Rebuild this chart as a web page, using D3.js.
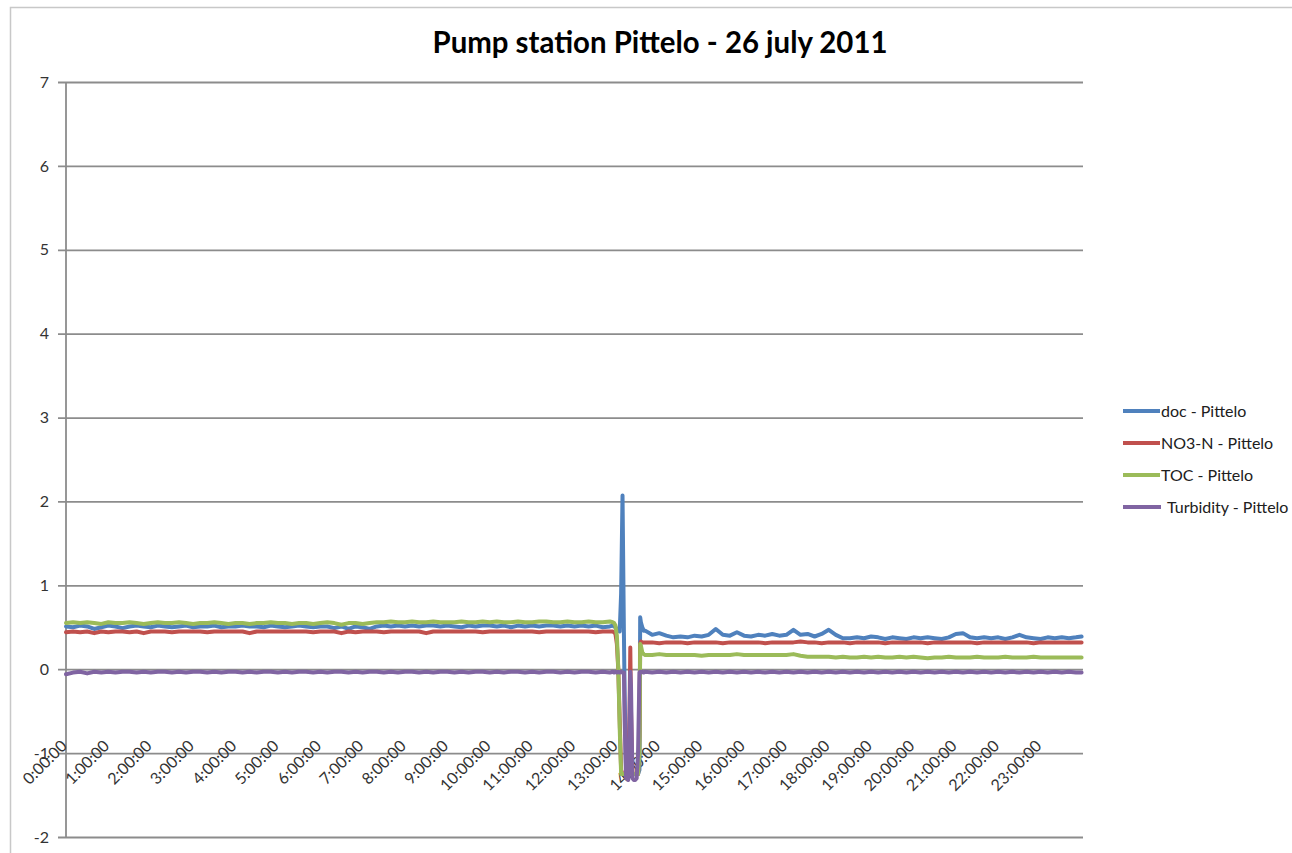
<!DOCTYPE html>
<html>
<head>
<meta charset="utf-8">
<script src="https://cdn.jsdelivr.net/npm/d3@7"></script>
<style>
  html, body { margin: 0; padding: 0; background: #fff; }
  svg { display: block; }
  text { font-family: Lato, "Open Sans", sans-serif; }
</style>
</head>
<body>
<svg id="chart" width="1292" height="853"></svg>
<script>
// Sample times in minutes after midnight (10-minute readings, denser during the 13:00 event)
const minutes = [
  0,10,20,30,40,50,60,70,80,90,100,110,120,130,140,150,160,170,180,190,200,210,220,230,240,250,260,270,280,290,
  300,310,320,330,340,350,360,370,380,390,400,410,420,430,440,450,460,470,480,490,500,510,520,530,540,550,560,570,580,590,
  600,610,620,630,640,650,660,670,680,690,700,710,720,730,740,750,760,770,
  774,776,778,780,782,784,786,788,790,791,793,796,798,799,800,802,804,806,808,810,812,813,814,816,818,
  820,830,840,850,860,870,880,890,900,910,920,930,940,950,960,970,980,990,1000,1010,1020,1030,1040,1050,1060,1070,1080,1090,
  1100,1110,1120,1130,1140,1150,1160,1170,1180,1190,1200,1210,1220,1230,1240,1250,1260,1270,1280,1290,1300,1310,1320,1330,
  1340,1350,1360,1370,1380,1390,1400,1410,1420,1430,1438
];

const doc = [
  0.51,0.50,0.52,0.51,0.48,0.50,0.52,0.51,0.49,0.51,0.52,0.51,0.50,0.52,0.51,0.50,0.51,0.52,0.50,0.51,0.51,0.52,0.50,0.51,0.51,0.52,0.51,0.51,0.50,0.52,
  0.51,0.50,0.51,0.52,0.51,0.50,0.51,0.51,0.49,0.51,0.48,0.51,0.50,0.48,0.51,0.52,0.51,0.52,0.51,0.52,0.51,0.52,0.52,0.51,0.52,0.51,0.50,0.52,0.51,0.52,
  0.52,0.51,0.52,0.50,0.52,0.51,0.52,0.51,0.52,0.52,0.51,0.52,0.51,0.52,0.51,0.52,0.50,0.51,
  0.52,0.51,0.50,0.48,0.46,0.45,0.90,2.07,0.40,-0.30,-1.20,-1.25,-1.25,-1.25,-1.25,-1.25,-1.25,-1.25,-1.25,-1.25,-1.20,0.62,0.56,0.50,0.46,
  0.46,0.41,0.43,0.40,0.38,0.39,0.38,0.40,0.39,0.41,0.48,0.41,0.40,0.44,0.40,0.39,0.41,0.40,0.42,0.40,0.41,0.47,0.41,0.42,0.39,0.42,0.47,0.41,
  0.37,0.37,0.38,0.37,0.39,0.38,0.36,0.38,0.37,0.36,0.38,0.37,0.38,0.37,0.36,0.38,0.42,0.43,0.38,0.37,0.38,0.37,0.38,0.36,
  0.38,0.41,0.38,0.37,0.36,0.38,0.37,0.38,0.37,0.38,0.39
];

const no3n = [
  0.44,0.45,0.44,0.45,0.43,0.45,0.44,0.45,0.45,0.44,0.45,0.43,0.45,0.45,0.45,0.44,0.45,0.45,0.45,0.45,0.44,0.45,0.45,0.45,0.45,0.45,0.43,0.45,0.45,0.45,
  0.45,0.45,0.45,0.45,0.45,0.44,0.45,0.45,0.45,0.43,0.45,0.44,0.45,0.45,0.45,0.44,0.45,0.45,0.45,0.45,0.45,0.43,0.45,0.45,0.45,0.45,0.45,0.45,0.45,0.44,
  0.45,0.45,0.45,0.45,0.45,0.45,0.45,0.44,0.45,0.45,0.45,0.45,0.45,0.45,0.45,0.44,0.45,0.45,
  0.45,0.44,0.42,0.30,0.00,-0.60,-1.20,-1.25,-1.25,-1.25,-1.25,-1.25,-0.50,0.26,-0.50,-1.25,-1.25,-1.25,-1.25,-1.25,-0.80,0.30,0.33,0.32,0.32,
  0.32,0.32,0.31,0.32,0.32,0.32,0.31,0.32,0.32,0.32,0.32,0.31,0.32,0.32,0.32,0.32,0.32,0.31,0.32,0.32,0.32,0.32,0.33,0.32,0.32,0.31,0.32,0.32,
  0.32,0.31,0.32,0.32,0.32,0.32,0.31,0.32,0.32,0.32,0.32,0.32,0.31,0.32,0.32,0.32,0.32,0.32,0.32,0.31,0.32,0.32,0.32,0.32,
  0.32,0.32,0.32,0.31,0.32,0.32,0.32,0.32,0.32,0.32,0.32
];

const toc = [
  0.55,0.56,0.55,0.56,0.55,0.54,0.56,0.55,0.55,0.56,0.55,0.54,0.55,0.56,0.55,0.55,0.56,0.55,0.54,0.55,0.55,0.56,0.55,0.54,0.55,0.55,0.54,0.55,0.55,0.56,
  0.55,0.55,0.54,0.55,0.55,0.54,0.55,0.56,0.55,0.53,0.55,0.55,0.54,0.55,0.56,0.56,0.57,0.56,0.56,0.57,0.56,0.56,0.57,0.56,0.56,0.56,0.57,0.56,0.56,0.57,
  0.56,0.57,0.56,0.56,0.57,0.56,0.56,0.57,0.57,0.56,0.56,0.57,0.56,0.56,0.57,0.56,0.56,0.57,
  0.56,0.55,0.52,0.40,0.00,-0.70,-1.25,-1.25,-1.25,-1.25,-1.25,-1.25,-1.25,-1.25,-1.25,-1.25,-1.25,-1.25,-1.25,-1.25,-1.00,0.30,0.28,0.20,0.18,
  0.17,0.17,0.18,0.17,0.17,0.17,0.17,0.17,0.16,0.17,0.17,0.17,0.17,0.18,0.17,0.17,0.17,0.17,0.17,0.17,0.17,0.18,0.16,0.15,0.15,0.15,0.15,0.14,
  0.15,0.14,0.14,0.15,0.14,0.15,0.14,0.14,0.15,0.14,0.15,0.14,0.13,0.14,0.14,0.15,0.14,0.14,0.14,0.15,0.14,0.14,0.14,0.15,
  0.14,0.14,0.14,0.15,0.14,0.14,0.14,0.14,0.14,0.14,0.14
];

const turbidity = [
  -0.06,-0.04,-0.03,-0.05,-0.03,-0.04,-0.03,-0.04,-0.03,-0.03,-0.04,-0.03,-0.04,-0.03,-0.03,-0.04,-0.03,-0.04,-0.03,-0.03,-0.04,-0.03,-0.04,-0.03,-0.03,-0.04,-0.03,-0.04,-0.03,-0.03,
  -0.04,-0.03,-0.04,-0.03,-0.03,-0.04,-0.03,-0.04,-0.03,-0.03,-0.04,-0.03,-0.04,-0.03,-0.03,-0.04,-0.03,-0.04,-0.03,-0.03,-0.04,-0.03,-0.04,-0.03,-0.03,-0.04,-0.03,-0.04,-0.03,-0.03,
  -0.04,-0.03,-0.04,-0.03,-0.03,-0.04,-0.03,-0.04,-0.03,-0.03,-0.04,-0.03,-0.04,-0.03,-0.03,-0.04,-0.03,-0.04,
  -0.03,-0.04,-0.03,-0.04,-0.03,-0.04,-0.03,-0.04,-0.04,-0.60,-1.30,-1.32,-0.60,-0.03,-0.20,-1.30,-1.32,-1.32,-1.30,-1.00,-0.04,-0.03,-0.04,-0.03,-0.04,
  -0.03,-0.04,-0.03,-0.04,-0.03,-0.04,-0.03,-0.04,-0.03,-0.04,-0.03,-0.04,-0.03,-0.04,-0.03,-0.04,-0.03,-0.04,-0.03,-0.04,-0.03,-0.04,-0.03,-0.04,-0.03,-0.04,-0.03,-0.04,
  -0.03,-0.04,-0.03,-0.04,-0.03,-0.04,-0.03,-0.04,-0.03,-0.04,-0.03,-0.04,-0.03,-0.04,-0.03,-0.04,-0.03,-0.04,-0.03,-0.04,-0.03,-0.04,-0.03,-0.04,
  -0.03,-0.04,-0.03,-0.04,-0.03,-0.04,-0.03,-0.04,-0.03,-0.04,-0.04
];

const seriesNames = ["doc - Pittelo", "NO3-N - Pittelo", "TOC - Pittelo", "Turbidity - Pittelo"];
const seriesColors = ["#4F81BD", "#C0504D", "#9BBB59", "#8064A2"];
const yTicks = [-2, -1, 0, 1, 2, 3, 4, 5, 6, 7];
const hourTicks = d3.range(0, 24);
const title = "Pump station Pittelo - 26 july 2011";

const svg = d3.select("#chart");
const W = 1292, H = 853;

// chart frame
svg.append("rect").attr("x", 10.5).attr("y", 7.5).attr("width", W + 10).attr("height", H + 10)
  .attr("fill", "#fff").attr("stroke", "#c8c8c8").attr("stroke-width", 1.5);

const plot = { left: 66, right: 1083, top: 82, bottom: 837 };

const x = d3.scaleLinear().domain([0, 1440]).range([plot.left, plot.right]);
const y = d3.scaleLinear().domain([-2, 7]).range([plot.bottom, plot.top]);

// title
svg.append("text").attr("x", 660).attr("y", 53).attr("text-anchor", "middle")
  .attr("font-size", 29.5).attr("font-weight", 700).attr("fill", "#000")
  .attr("textLength", 455).attr("lengthAdjust", "spacingAndGlyphs")
  .text(title);

// horizontal gridlines with y axis
const yAxis = d3.axisLeft(y).tickValues(yTicks).tickSize(-(plot.right - plot.left)).tickPadding(17)
  .tickFormat(d => String(d));
const gy = svg.append("g").attr("transform", `translate(${plot.left},0)`).call(yAxis);
gy.select(".domain").remove();
gy.selectAll(".tick line").attr("stroke", "#8c8c8c").attr("stroke-width", 1.8).attr("x1", -8);
gy.selectAll(".tick text").attr("font-size", 16).attr("fill", "#333").attr("font-family", "Lato, sans-serif");

// vertical value axis line
svg.append("line").attr("x1", plot.left).attr("x2", plot.left).attr("y1", plot.top).attr("y2", plot.bottom)
  .attr("stroke", "#8c8c8c").attr("stroke-width", 1.8);

// hour labels, rotated
const hourFmt = h => `${h}:00:00`;
svg.append("g").selectAll("text").data(hourTicks).join("text")
  .attr("transform", h => `translate(${x(h * 60) + 2},${747}) rotate(-45)`)
  .attr("text-anchor", "end")
  .attr("font-size", 16).attr("fill", "#333")
  .text(hourFmt);

// series lines
const allSeries = [doc, no3n, toc, turbidity];
const line = d3.line().x((d, i) => x(minutes[i])).y(d => y(d));
svg.append("g").selectAll("path").data(allSeries).join("path")
  .attr("d", vals => line(vals))
  .attr("fill", "none")
  .attr("stroke", (d, i) => seriesColors[i])
  .attr("stroke-width", 4)
  .attr("stroke-linejoin", "round")
  .attr("stroke-linecap", "round");

// legend
const legendY = [411, 443, 475, 507];
const lg = svg.append("g");
seriesNames.forEach((name, i) => {
  const endX = i === 3 ? 1161 : 1160;
  lg.append("line").attr("x1", 1123).attr("x2", endX).attr("y1", legendY[i]).attr("y2", legendY[i])
    .attr("stroke", seriesColors[i]).attr("stroke-width", 4);
  lg.append("text").attr("x", i === 3 ? 1167 : 1161).attr("y", legendY[i] + 6)
    .attr("font-size", 16).attr("fill", "#202020").text(name);
});
</script>
</body>
</html>
